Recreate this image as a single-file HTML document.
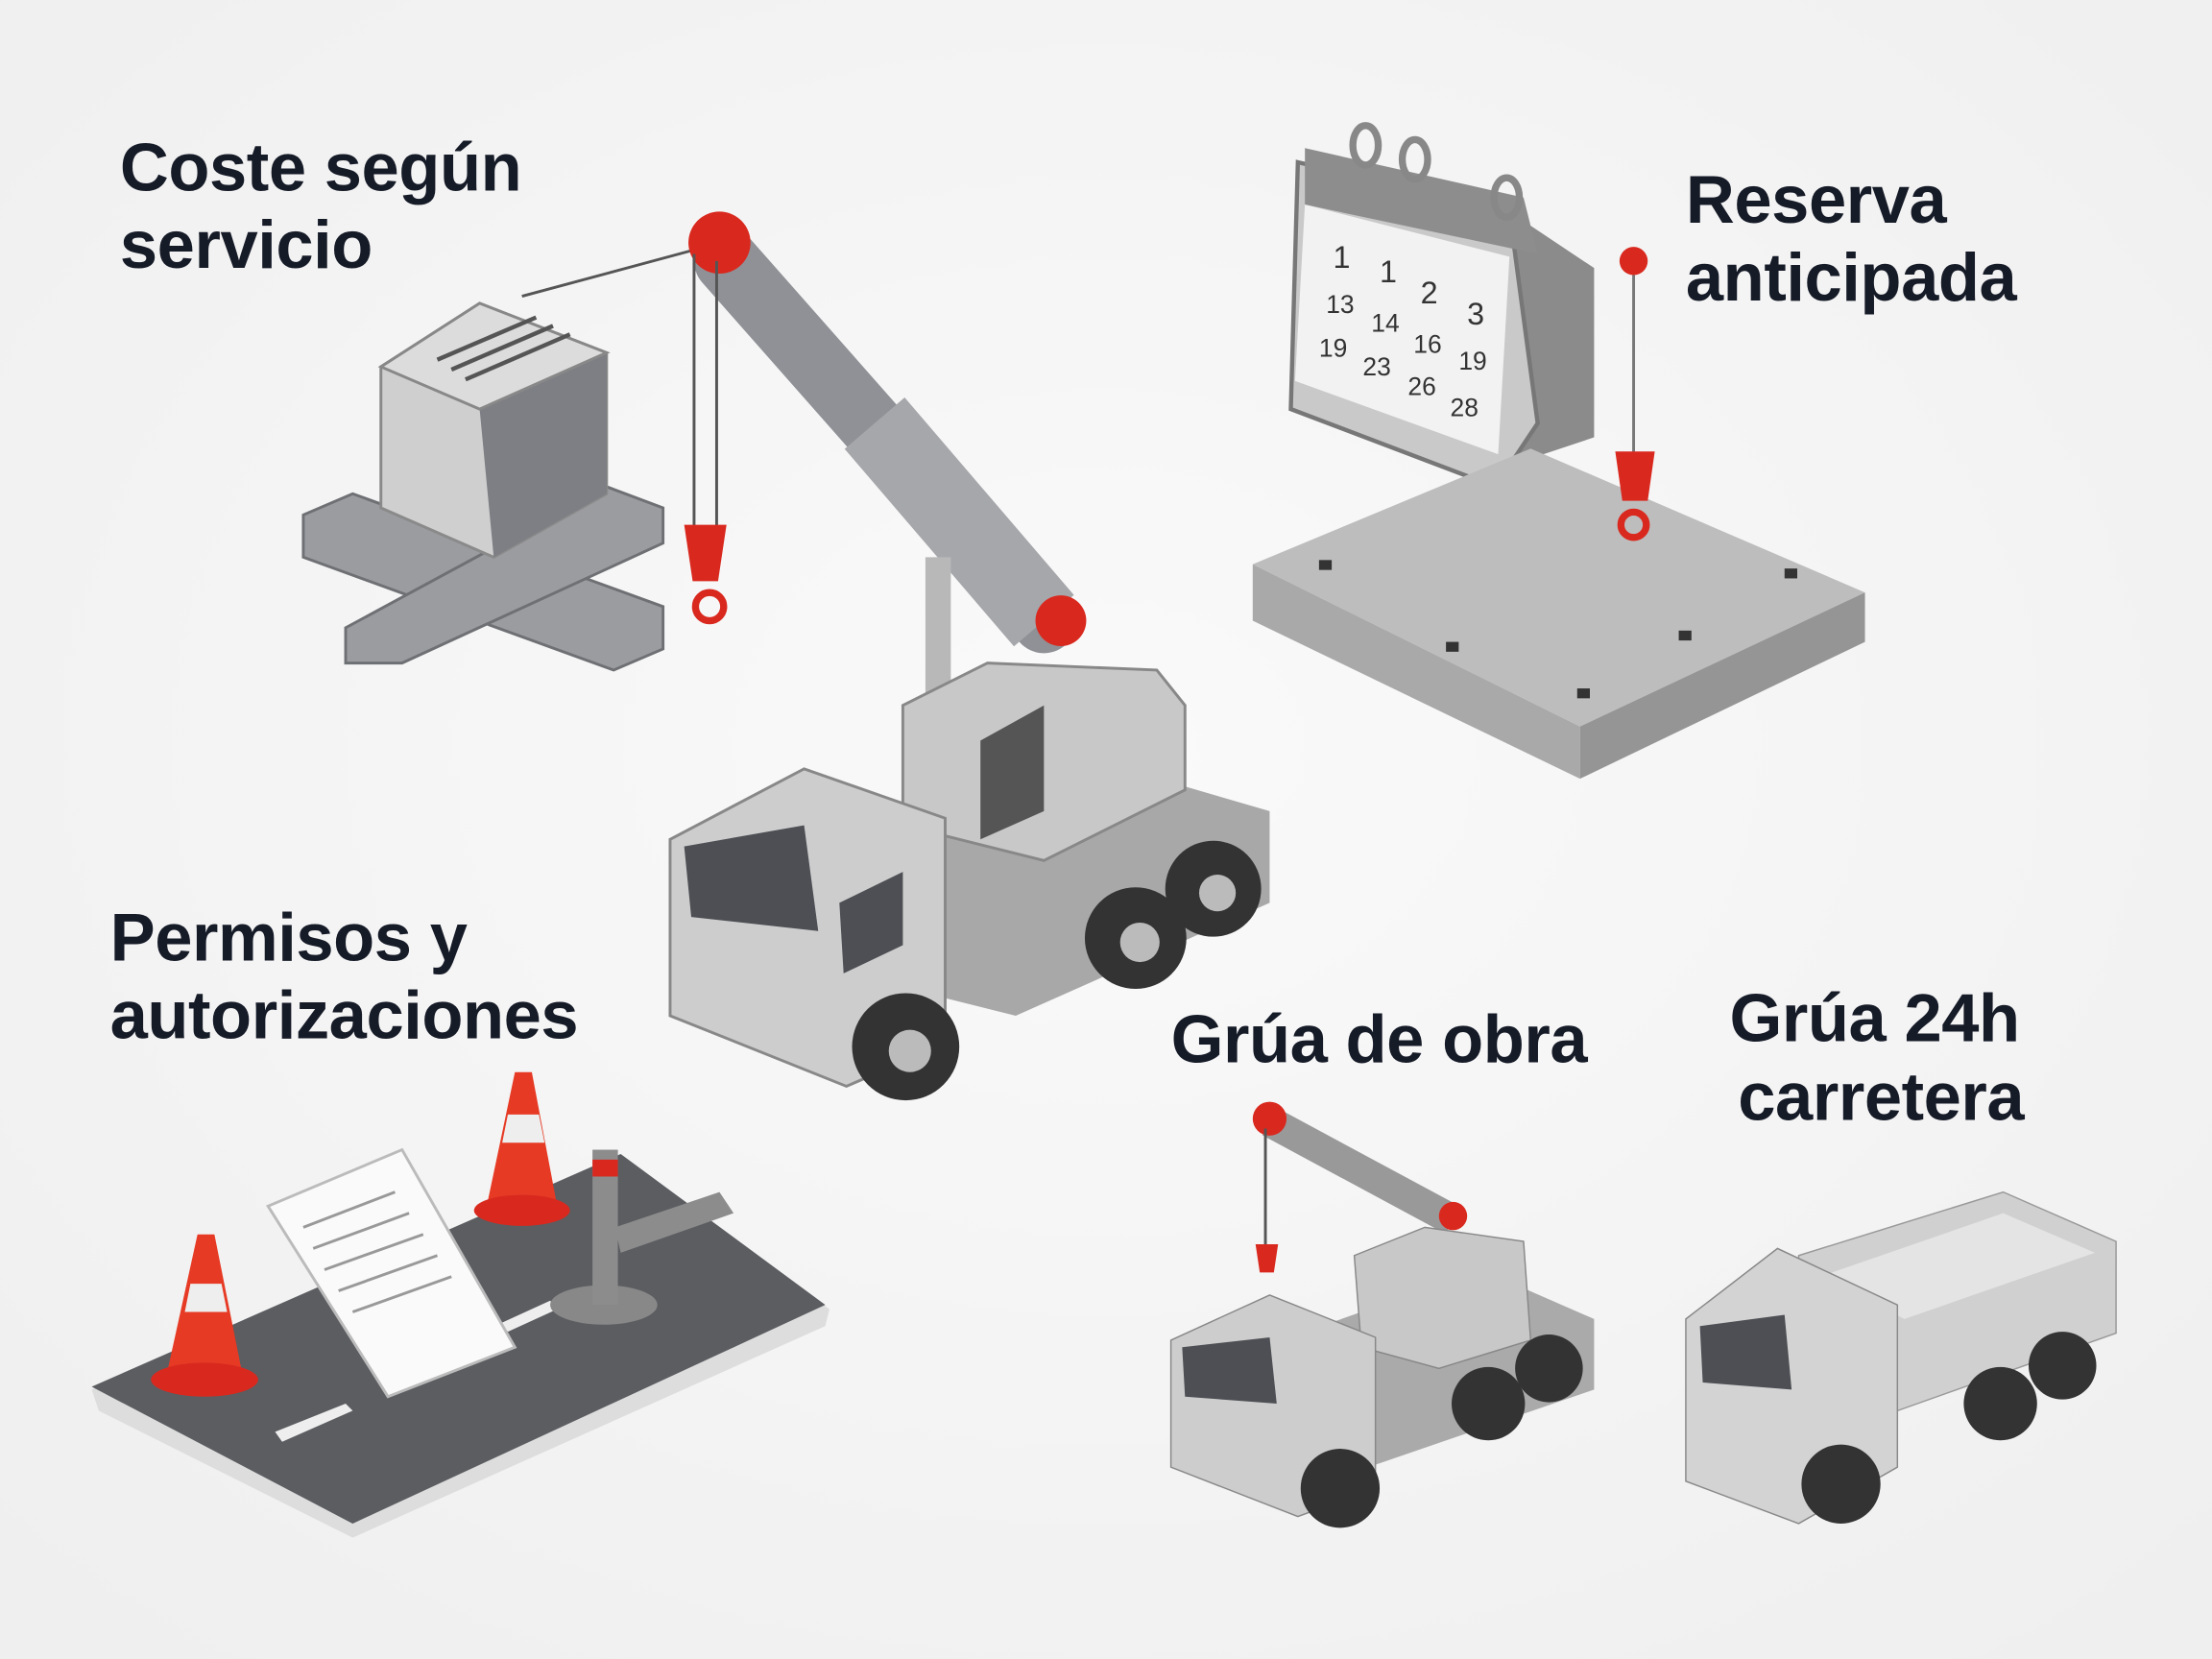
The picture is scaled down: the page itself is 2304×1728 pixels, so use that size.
<!DOCTYPE html>
<html><head><meta charset="utf-8"><style>
html,body{margin:0;padding:0;background:#f4f4f4}
svg{display:block}
text{font-family:"Liberation Sans",sans-serif;font-weight:700;fill:#161b28}
</style></head><body>
<svg width="2304" height="1728" viewBox="0 0 1568 1176" xmlns="http://www.w3.org/2000/svg">
<defs>
<radialGradient id="bg" cx="50%" cy="45%" r="70%"><stop offset="0" stop-color="#fafafa"/><stop offset="1" stop-color="#efefef"/></radialGradient>
</defs>
<rect width="1568" height="1176" fill="url(#bg)"/>

<!-- Labels -->
<g font-size="48" style="letter-spacing:-0.3px">
<text x="85" y="135" font-size="48">Coste según</text>
<text x="85" y="190" font-size="48">servicio</text>
<text x="1195" y="158" font-size="48">Reserva</text>
<text x="1195" y="213" font-size="48">anticipada</text>
<text x="78" y="681" font-size="48">Permisos y</text>
<text x="78" y="736" font-size="48">autorizaciones</text>
<text x="830" y="753" font-size="48">Grúa de obra</text>
<text x="1226" y="738" font-size="48">Grúa 24h</text>
<text x="1232" y="794" font-size="48">carretera</text>
</g>

<!-- Beams -->
<g fill="#9a9ca0" stroke="#6e7074" stroke-width="2">
<polygon points="215,365 250,350 470,430 470,460 435,475 215,395"/>
<polygon points="245,445 430,345 470,360 470,385 285,470 245,470"/>
</g>
<!-- AC unit -->
<polygon points="270,260 340,215 430,250 430,350 350,395 270,360" fill="#cfcfcf" stroke="#8a8a8a" stroke-width="2"/>
<polygon points="340,290 430,250 430,350 350,395" fill="#7d7f84"/>
<polygon points="270,260 340,215 430,250 340,290" fill="#dcdcdc" stroke="#888" stroke-width="2"/>
<g stroke="#555" stroke-width="3"><line x1="310" y1="255" x2="380" y2="225"/><line x1="320" y1="262" x2="392" y2="231"/><line x1="330" y1="269" x2="404" y2="237"/></g>
<line x1="370" y1="210" x2="500" y2="175" stroke="#555" stroke-width="2"/>

<!-- Main crane -->
<line x1="740" y1="440" x2="515" y2="185" stroke="#8f9196" stroke-width="46" stroke-linecap="round"/>
<line x1="740" y1="440" x2="620" y2="300" stroke="#a6a7ab" stroke-width="56"/>
<line x1="665" y1="395" x2="665" y2="520" stroke="#b8b8b8" stroke-width="18"/>
<circle cx="752" cy="440" r="18" fill="#d9291f"/>
<circle cx="510" cy="172" r="22" fill="#d9291f"/>
<line x1="492" y1="180" x2="492" y2="375" stroke="#555" stroke-width="2"/>
<line x1="508" y1="185" x2="508" y2="375" stroke="#555" stroke-width="2"/>
<path d="M485,372 h30 l-6,40 h-18z" fill="#d9291f"/>
<circle cx="503" cy="430" r="10" fill="none" stroke="#d9291f" stroke-width="5"/>

<!-- main truck body -->
<polygon points="560,620 780,540 900,575 900,640 720,720 600,690" fill="#a8a8a8"/>
<polygon points="640,500 700,470 820,475 840,500 840,560 740,610 660,590 640,570" fill="#c8c8c8" stroke="#888" stroke-width="2"/>
<polygon points="695,525 740,500 740,575 695,595" fill="#555"/>
<polygon points="475,595 570,545 670,580 670,740 600,770 475,720" fill="#cdcdcd" stroke="#888" stroke-width="2"/>
<polygon points="485,600 570,585 580,660 490,650" fill="#4d4f54"/>
<polygon points="595,640 640,618 640,670 598,690" fill="#4d4f54"/>
<g fill="#333">
<circle cx="642" cy="742" r="38"/><circle cx="805" cy="665" r="36"/><circle cx="860" cy="630" r="34"/>
</g>
<g fill="#bbb"><circle cx="645" cy="745" r="15"/><circle cx="808" cy="668" r="14"/><circle cx="863" cy="633" r="13"/></g>

<!-- Calendar -->
<polygon points="1070,150 1130,190 1130,310 1070,330" fill="#8b8b8b"/>
<polygon points="920,115 1070,150 1090,300 1060,345 915,290" fill="#c9c9c9" stroke="#777" stroke-width="3"/>
<polygon points="925,145 1070,182 1062,322 918,270" fill="#f2f2f2"/>
<polygon points="925,105 1080,140 1090,180 925,145" fill="#8d8d8d"/>
<g fill="none" stroke="#888" stroke-width="5"><ellipse cx="968" cy="103" rx="9" ry="14"/><ellipse cx="1003" cy="113" rx="9" ry="14"/><ellipse cx="1068" cy="140" rx="9" ry="14"/></g>
<g>
<text x="945" y="190" font-size="22" style="font-weight:400;fill:#333">1</text><text x="978" y="200" font-size="22" style="font-weight:400;fill:#333">1</text><text x="1007" y="215" font-size="22" style="font-weight:400;fill:#333">2</text><text x="1040" y="230" font-size="22" style="font-weight:400;fill:#333">3</text>
<text x="940" y="222" font-size="18" style="font-weight:400;fill:#333">13</text><text x="972" y="235" font-size="18" style="font-weight:400;fill:#333">14</text><text x="1002" y="250" font-size="18" style="font-weight:400;fill:#333">16</text><text x="1034" y="262" font-size="18" style="font-weight:400;fill:#333">19</text>
<text x="935" y="253" font-size="18" style="font-weight:400;fill:#333">19</text><text x="966" y="266" font-size="18" style="font-weight:400;fill:#333">23</text><text x="998" y="280" font-size="18" style="font-weight:400;fill:#333">26</text><text x="1028" y="295" font-size="18" style="font-weight:400;fill:#333">28</text>
</g>
<!-- slab -->
<polygon points="888,400 1085,318 1322,420 1120,515" fill="#bdbdbd"/>
<polygon points="888,400 1120,515 1120,552 888,440" fill="#a9a9a9"/>
<polygon points="1120,515 1322,420 1322,455 1120,552" fill="#959595"/>
<g fill="#333"><rect x="935" y="397" width="9" height="7"/><rect x="1025" y="455" width="9" height="7"/><rect x="1265" y="403" width="9" height="7"/><rect x="1190" y="447" width="9" height="7"/><rect x="1118" y="488" width="9" height="7"/></g>
<line x1="1158" y1="195" x2="1158" y2="330" stroke="#777" stroke-width="2"/>
<circle cx="1158" cy="185" r="10" fill="#d9291f"/>
<path d="M1145,320 h28 l-5,35 h-18z" fill="#d9291f"/>
<circle cx="1158" cy="372" r="9" fill="none" stroke="#d9291f" stroke-width="5"/>

<!-- Road -->
<polygon points="65,985 440,820 588,928 585,940 250,1090 70,1000" fill="#ddd"/>
<polygon points="65,983 440,818 585,925 250,1080" fill="#5b5d61"/>
<g fill="#eee"><polygon points="195,1015 245,995 250,1000 200,1022"/><polygon points="355,938 390,922 395,928 360,944"/></g>
<polygon points="190,855 285,815 365,955 275,990" fill="#fafafa" stroke="#bbb" stroke-width="2"/>
<g stroke="#999" stroke-width="2"><line x1="215" y1="870" x2="280" y2="845"/><line x1="222" y1="885" x2="290" y2="860"/><line x1="230" y1="900" x2="300" y2="875"/><line x1="240" y1="915" x2="310" y2="890"/><line x1="250" y1="930" x2="320" y2="905"/></g>
<g><polygon points="140,875 152,875 172,975 118,975" fill="#e63a24"/><ellipse cx="145" cy="978" rx="38" ry="12" fill="#d9291f"/><polygon points="135,910 157,910 161,930 131,930" fill="#eee"/></g>
<g><polygon points="365,760 377,760 395,855 345,855" fill="#e63a24"/><ellipse cx="370" cy="858" rx="34" ry="11" fill="#d9291f"/><polygon points="360,790 382,790 386,810 356,810" fill="#eee"/></g>
<ellipse cx="428" cy="925" rx="38" ry="14" fill="#888"/>
<rect x="420" y="815" width="18" height="110" fill="#8c8c8c"/>
<rect x="420" y="822" width="18" height="12" fill="#d9291f"/>
<polygon points="436,870 510,845 520,860 440,888" fill="#8c8c8c"/>

<!-- Small crane truck -->
<line x1="1030" y1="865" x2="900" y2="795" stroke="#999" stroke-width="22"/>
<circle cx="900" cy="793" r="12" fill="#d9291f"/><circle cx="1030" cy="862" r="10" fill="#d9291f"/>
<line x1="897" y1="800" x2="897" y2="885" stroke="#555" stroke-width="2"/>
<path d="M890,882 h16 l-3,20 h-10z" fill="#d9291f"/>
<polygon points="880,960 1050,900 1130,935 1130,985 970,1040" fill="#aaa"/>
<polygon points="960,890 1010,870 1080,880 1085,950 1020,970 965,955" fill="#c8c8c8" stroke="#888"/>
<polygon points="830,950 900,918 975,948 975,1055 920,1075 830,1040" fill="#cdcdcd" stroke="#888"/>
<polygon points="838,955 900,948 905,995 840,990" fill="#4d4f54"/>
<g fill="#333"><circle cx="950" cy="1055" r="28"/><circle cx="1055" cy="995" r="26"/><circle cx="1098" cy="970" r="24"/></g>

<!-- Dump truck -->
<polygon points="1275,890 1420,845 1500,880 1500,945 1345,1000 1275,965" fill="#d0d0d0" stroke="#999"/>
<polygon points="1290,905 1420,860 1485,888 1350,935" fill="#e4e4e4"/>
<polygon points="1195,935 1260,885 1345,925 1345,1040 1275,1080 1195,1050" fill="#d3d3d3" stroke="#888"/>
<polygon points="1205,940 1265,932 1270,985 1207,980" fill="#4d4f54"/>
<g fill="#333"><circle cx="1305" cy="1052" r="28"/><circle cx="1418" cy="995" r="26"/><circle cx="1462" cy="968" r="24"/></g>
</svg>
</body></html>
